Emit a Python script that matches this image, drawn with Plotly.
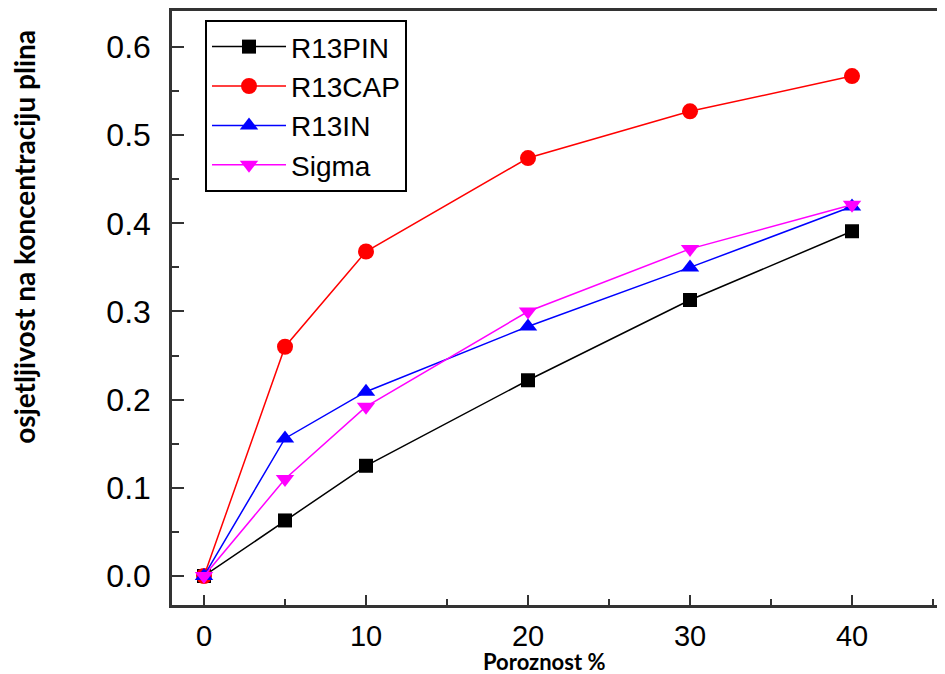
import plotly.graph_objects as go

poroznost = [0, 5, 10, 20, 30, 40]
r13pin = [0.0, 0.063, 0.125, 0.222, 0.313, 0.391]
r13cap = [0.0, 0.260, 0.368, 0.474, 0.527, 0.567]
r13in = [0.0, 0.156, 0.209, 0.283, 0.350, 0.419]
sigma = [0.0, 0.110, 0.192, 0.300, 0.371, 0.421]

x_ticks = [0, 10, 20, 30, 40]
y_ticks = [0.0, 0.1, 0.2, 0.3, 0.4, 0.5, 0.6]

series = [
    ("R13PIN", r13pin, "black", "square", 14),
    ("R13CAP", r13cap, "red", "circle", 16),
    ("R13IN", r13in, "blue", "triangle-up", 16),
    ("Sigma", sigma, "magenta", "triangle-down", 16),
]

fig = go.Figure()
for name, vals, col, sym, sz in series:
    fig.add_trace(go.Scatter(
        x=poroznost, y=vals, name=name, mode="lines+markers",
        line=dict(color=col, width=1.5),
        marker=dict(symbol=sym, size=sz, color=col),
    ))

axis_col = "#333"
# page body has an 8px margin: figure is sized/offset to compensate
fig.update_layout(
    width=937, height=666,
    margin=dict(l=164, r=0, t=3, b=69),
    plot_bgcolor="white", paper_bgcolor="white",
    showlegend=True,
    legend=dict(
        x=0.0427, y=0.985, xanchor="left", yanchor="top",
        bordercolor="black", borderwidth=2, bgcolor="white",
        font=dict(family="Liberation Sans, Arial", size=28, color="black"),
        itemwidth=74, tracegroupgap=0,
    ),
    xaxis=dict(
        range=[-1.975, 45.74], tickvals=x_ticks, automargin=False,
        showgrid=False, zeroline=False,
        showline=True, linecolor=axis_col, linewidth=2.5, mirror=True,
        ticks="inside", ticklen=10, tickwidth=2, tickcolor=axis_col,
        minor=dict(dtick=5, tick0=0, ticks="inside", ticklen=6, tickwidth=2, tickcolor=axis_col),
        tickfont=dict(family="Liberation Sans, Arial", size=29, color="black"),
        ticklabelstandoff=3,
    ),
    yaxis=dict(
        range=[-0.0329, 0.6408], tickvals=y_ticks, automargin=False,
        tickformat=".1f",
        showgrid=False, zeroline=False,
        showline=True, linecolor=axis_col, linewidth=2.5, mirror=False,
        ticks="inside", ticklen=12, tickwidth=2, tickcolor=axis_col,
        minor=dict(dtick=0.05, tick0=0, ticks="inside", ticklen=7, tickwidth=2, tickcolor=axis_col),
        tickfont=dict(family="Liberation Sans, Arial", size=32, color="black"),
        ticklabelstandoff=12,
    ),
    annotations=[
        dict(text="<b>osjetljivost na koncentraciju plina</b>", textangle=-90,
             xref="paper", yref="paper", x=0, y=0.62, xanchor="center", yanchor="middle",
             xshift=-148, showarrow=False,
             font=dict(family="Lato", size=28, color="black")),
        dict(text="<b>Poroznost %</b>",
             xref="paper", yref="paper", x=0.481, y=0, xanchor="center", yanchor="middle",
             yshift=-56, showarrow=False,
             font=dict(family="Lato", size=22, color="black")),
    ],
)

fig.write_html("out.html")
